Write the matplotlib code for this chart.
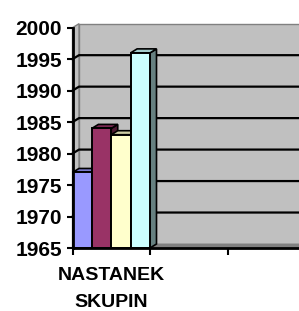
import matplotlib
matplotlib.use("Agg")
import matplotlib.pyplot as plt
from matplotlib.patches import Polygon, Rectangle
from matplotlib.transforms import IdentityTransform
import numpy as np

# ---- data ----
categories = ["NASTANEK\nSKUPIN", "", ""]
series_names = ["S1", "S2", "S3", "S4"]
series_values = [1977, 1984, 1983, 1996]   # values for first category
series_colors = ["#9999FF", "#993366", "#FFFFCC", "#CCFFFF"]
y_ticks = [1965, 1970, 1975, 1980, 1985, 1990, 1995, 2000]
y_min, y_max = 1965, 2000

plt.rcParams['font.family'] = ['Liberation Sans', 'DejaVu Sans']

W, H = 299, 311
fig = plt.figure(figsize=(W / 100, H / 100), dpi=100)
fig.patch.set_facecolor("white")

ax_left, ax_right = 72.5, 305.0
ax_top, ax_bot = 27.7, 248.0
ax = fig.add_axes([ax_left / W, (H - ax_bot) / H, (ax_right - ax_left) / W, (ax_bot - ax_top) / H])
ax.set_xlim(0, len(categories))
ax.set_ylim(y_min, y_max)
ax.patch.set_visible(False)
for s in ax.spines.values():
    s.set_visible(False)

DX, DY = 6.5, 4.0  # depth offset in pixels
ident = IdentityTransform()

def disp(x, y, back=False):
    p = ax.transData.transform((x, y))
    if back:
        p = p + np.array([DX, DY])
    return p

def poly(pts, **kw):
    ax.add_patch(Polygon(np.array(pts), closed=True, transform=ident, clip_on=False, **kw))

ncat = len(categories)
# back wall
poly([disp(0, y_min, True), disp(ncat, y_min, True), disp(ncat, y_max, True), disp(0, y_max, True)],
     facecolor="#C0C0C0", edgecolor="#808080", lw=1.0, zorder=1)
# side wall
poly([disp(0, y_min), disp(0, y_min, True), disp(0, y_max, True), disp(0, y_max)],
     facecolor="#C0C0C0", edgecolor="#808080", lw=1.0, zorder=1)
# floor
poly([disp(0, y_min), disp(ncat, y_min), disp(ncat, y_min, True), disp(0, y_min, True)],
     facecolor="#808080", edgecolor="#808080", lw=0.5, zorder=1.5)

# gridlines
for yv in y_ticks[1:-1]:
    pts = np.array([disp(0, yv), disp(0, yv, True), disp(ncat, yv, True)])
    ax.plot(pts[:, 0], pts[:, 1], color="black", lw=1.6, transform=ident, clip_on=False, zorder=2)

# bars
nser = len(series_values)
bw = 1.0 / nser
def shade(c, f):
    r, g, b = matplotlib.colors.to_rgb(c)
    return (r * f, g * f, b * f)

for i, (v, c) in enumerate(zip(series_values, series_colors)):
    x0 = i * bw
    x1 = x0 + bw
    z = 3 + i
    # side face
    poly([disp(x1, y_min), disp(x1, y_min, True), disp(x1, v, True), disp(x1, v)],
         facecolor=shade(c, 0.5), edgecolor="black", lw=1.2, zorder=z)
    # top face
    poly([disp(x0, v), disp(x1, v), disp(x1, v, True), disp(x0, v, True)],
         facecolor=shade(c, 0.8), edgecolor="black", lw=1.2, zorder=z)
    # front face
    ax.add_patch(Rectangle((x0, y_min), bw, v - y_min, facecolor=c, edgecolor="black",
                           lw=1.4, zorder=z + 0.5, clip_on=False))

# axis lines
ax.plot([0, 0], [y_min, y_max], color="black", lw=2.0, zorder=10, clip_on=False)
ax.plot([0, ncat], [y_min, y_min], color="black", lw=2.0, zorder=10, clip_on=False)

ax.set_yticks(y_ticks)
ax.set_yticklabels([str(t) for t in y_ticks], fontsize=15, fontweight="bold")
ax.tick_params(axis="y", direction="out", length=4.5, width=1.5, pad=3)
ax.set_xticks(range(ncat + 1))
ax.set_xticklabels([""] * (ncat + 1))
ax.set_xticks([k + 0.5 for k in range(ncat)], minor=True)
ax.set_xticklabels(categories, minor=True, fontsize=14, fontweight="bold", linespacing=1.75)
ax.tick_params(axis="x", which="major", direction="out", length=5, width=1.5)
ax.tick_params(axis="x", which="minor", length=0, pad=14)

fig.savefig("out.png", dpi=100)
